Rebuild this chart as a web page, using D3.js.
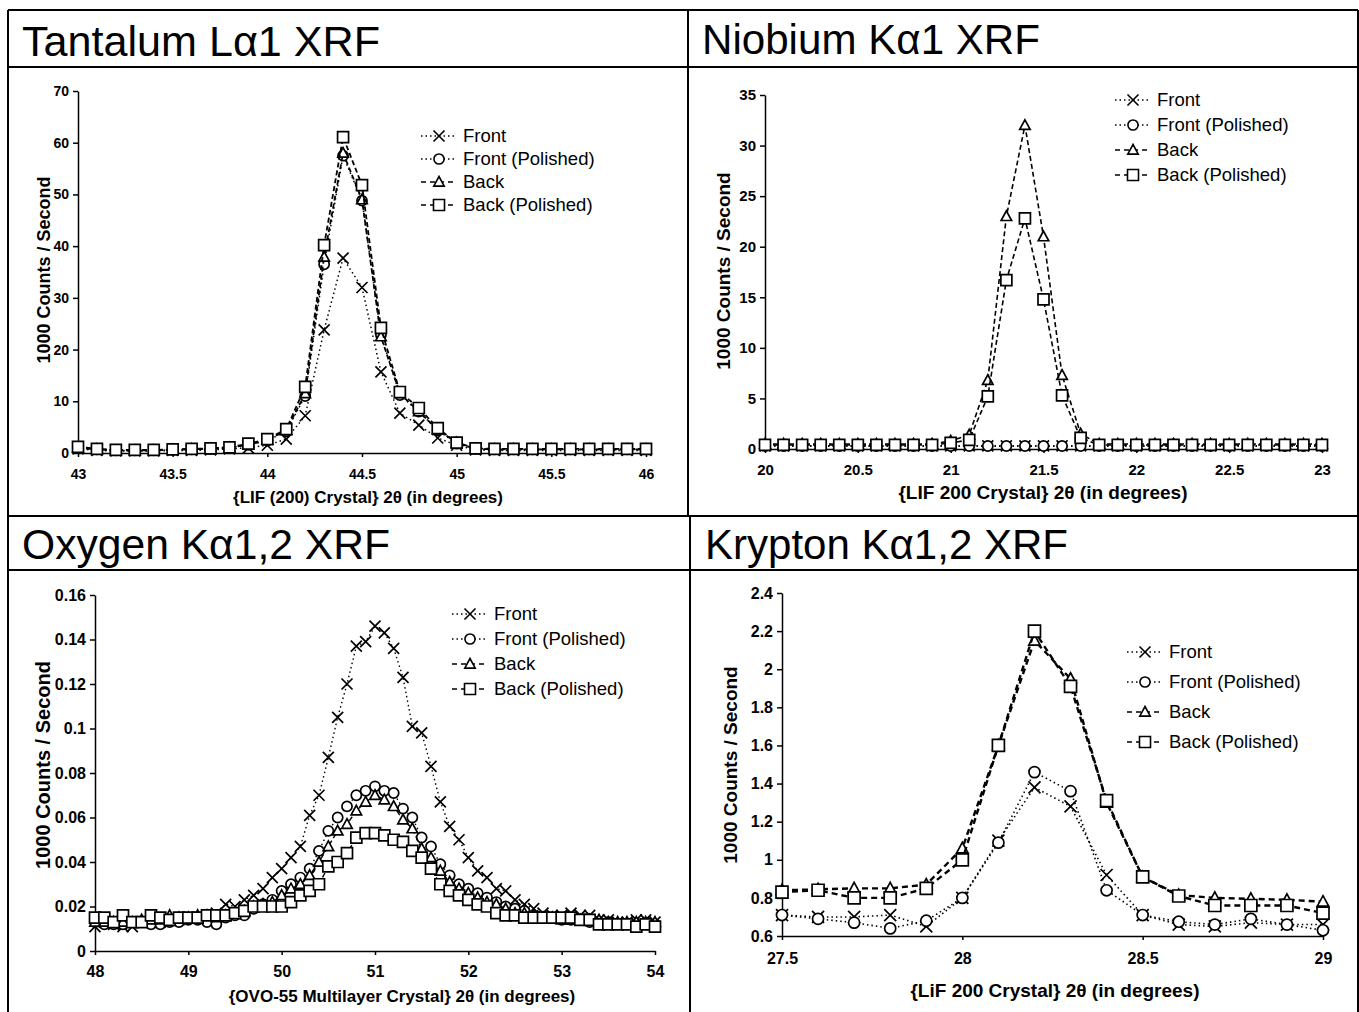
<!DOCTYPE html>
<html>
<head>
<meta charset="utf-8">
<script src="https://cdn.jsdelivr.net/npm/d3@7"></script>
<style>
body { margin: 0; background: #fff; }
svg text { font-family: "Liberation Sans", Arial, Helvetica, sans-serif; fill: #000; }
</style>
</head>
<body>
<svg id="chart" width="1359" height="1012"></svg>
<script>
// series shared by all four panels
const seriesNames = ["Front", "Front (Polished)", "Back", "Back (Polished)"];
const seriesShapes = ["cross", "circle", "triangle", "square"];

// Tantalum La1, LiF (200), 2theta 43.0 .. 46.0
const taAngles = [43.0, 43.1, 43.2, 43.3, 43.4, 43.5, 43.6, 43.7, 43.8, 43.9, 44.0, 44.1, 44.2, 44.3, 44.4, 44.5,
    44.6, 44.7, 44.8, 44.9, 45.0, 45.1, 45.2, 45.3, 45.4, 45.5, 45.6, 45.7, 45.8, 45.9, 46.0];
const taFront = [0.8, 0.5, 0.4, 0.4, 0.4, 0.5, 0.5, 0.6, 0.8, 1.0, 1.5, 2.7, 7.2, 23.8, 37.7, 32.0,
    15.7, 7.7, 5.4, 2.9, 1.5, 0.6, 0.5, 0.5, 0.5, 0.5, 0.5, 0.5, 0.5, 0.5, 0.5];
const taFrontPolished = [1.0, 0.7, 0.5, 0.5, 0.5, 0.6, 0.7, 0.8, 1.0, 1.6, 2.4, 4.2, 11.0, 36.5, 57.5, 48.8,
    22.8, 11.2, 8.0, 4.4, 1.8, 0.8, 0.7, 0.7, 0.7, 0.7, 0.7, 0.7, 0.7, 0.7, 0.7];
const taBack = [1.0, 0.7, 0.5, 0.5, 0.5, 0.6, 0.7, 0.8, 1.0, 1.6, 2.5, 4.4, 11.5, 37.9, 58.0, 49.0,
    22.5, 11.5, 8.0, 4.5, 2.0, 0.8, 0.7, 0.7, 0.7, 0.7, 0.7, 0.7, 0.7, 0.7, 0.7];
const taBackPolished = [1.2, 0.8, 0.6, 0.6, 0.6, 0.7, 0.8, 0.9, 1.1, 1.8, 2.7, 4.6, 12.8, 40.2, 61.1, 51.8,
    24.2, 11.8, 8.7, 4.8, 2.0, 0.9, 0.8, 0.8, 0.8, 0.8, 0.8, 0.8, 0.8, 0.8, 0.8];

// Niobium Ka1, LiF 200, 2theta 20.0 .. 23.0
const nbAngles = [20.0, 20.1, 20.2, 20.3, 20.4, 20.5, 20.6, 20.7, 20.8, 20.9, 21.0, 21.1, 21.2, 21.3, 21.4, 21.5,
    21.6, 21.7, 21.8, 21.9, 22.0, 22.1, 22.2, 22.3, 22.4, 22.5, 22.6, 22.7, 22.8, 22.9, 23.0];
const nbFront = [0.3, 0.3, 0.3, 0.3, 0.3, 0.3, 0.3, 0.3, 0.3, 0.3, 0.3, 0.3, 0.3, 0.3, 0.3, 0.3,
    0.3, 0.3, 0.3, 0.3, 0.3, 0.3, 0.3, 0.3, 0.3, 0.3, 0.3, 0.3, 0.3, 0.3, 0.3];
const nbFrontPolished = [0.3, 0.3, 0.3, 0.3, 0.3, 0.3, 0.3, 0.3, 0.3, 0.3, 0.3, 0.3, 0.3, 0.3, 0.3, 0.3,
    0.3, 0.3, 0.3, 0.3, 0.3, 0.3, 0.3, 0.3, 0.3, 0.3, 0.3, 0.3, 0.3, 0.3, 0.3];
const nbBack = [0.5, 0.5, 0.5, 0.5, 0.5, 0.5, 0.5, 0.5, 0.5, 0.5, 0.8, 1.4, 6.8, 23.0, 32.0, 21.0,
    7.3, 1.5, 0.5, 0.5, 0.5, 0.5, 0.5, 0.5, 0.5, 0.5, 0.5, 0.5, 0.5, 0.5, 0.5];
const nbBackPolished = [0.4, 0.4, 0.4, 0.4, 0.4, 0.4, 0.4, 0.4, 0.4, 0.4, 0.6, 0.9, 5.2, 16.7, 22.8, 14.8,
    5.3, 1.1, 0.4, 0.4, 0.4, 0.4, 0.4, 0.4, 0.4, 0.4, 0.4, 0.4, 0.4, 0.4, 0.4];

// Oxygen Ka1,2, OVO-55 multilayer, 2theta 48.0 .. 54.0
const oxAngles = [48.0, 48.1, 48.2, 48.3, 48.4, 48.5, 48.6, 48.7, 48.8, 48.9,
    49.0, 49.1, 49.2, 49.3, 49.4, 49.5, 49.6, 49.7, 49.8, 49.9,
    50.0, 50.1, 50.2, 50.3, 50.4, 50.5, 50.6, 50.7, 50.8, 50.9,
    51.0, 51.1, 51.2, 51.3, 51.4, 51.5, 51.6, 51.7, 51.8, 51.9,
    52.0, 52.1, 52.2, 52.3, 52.4, 52.5, 52.6, 52.7, 52.8, 52.9,
    53.0, 53.1, 53.2, 53.3, 53.4, 53.5, 53.6, 53.7, 53.8, 53.9, 54.0];
const oxFront = [0.011, 0.013, 0.012, 0.011, 0.011, 0.013, 0.014, 0.013, 0.014, 0.014,
    0.015, 0.015, 0.016, 0.017, 0.021, 0.020, 0.023, 0.025, 0.028, 0.033,
    0.037, 0.042, 0.047, 0.061, 0.070, 0.087, 0.105, 0.120, 0.137, 0.139,
    0.146, 0.143, 0.136, 0.123, 0.101, 0.098, 0.083, 0.067, 0.056, 0.050,
    0.042, 0.036, 0.033, 0.028, 0.027, 0.023, 0.021, 0.019, 0.017, 0.016,
    0.016, 0.017, 0.016, 0.016, 0.014, 0.014, 0.013, 0.013, 0.014, 0.014, 0.013];
const oxFrontPolished = [0.013, 0.012, 0.012, 0.012, 0.013, 0.013, 0.012, 0.012, 0.013, 0.013,
    0.014, 0.014, 0.013, 0.012, 0.015, 0.016, 0.016, 0.019, 0.021, 0.023,
    0.027, 0.030, 0.033, 0.037, 0.045, 0.054, 0.060, 0.065, 0.070, 0.072,
    0.074, 0.072, 0.071, 0.064, 0.060, 0.051, 0.047, 0.039, 0.034, 0.030,
    0.028, 0.026, 0.024, 0.022, 0.020, 0.019, 0.018, 0.016, 0.015, 0.015,
    0.014, 0.014, 0.014, 0.013, 0.013, 0.013, 0.012, 0.012, 0.012, 0.012, 0.012];
const oxBack = [0.013, 0.013, 0.013, 0.013, 0.013, 0.014, 0.014, 0.014, 0.016, 0.015,
    0.015, 0.016, 0.016, 0.015, 0.016, 0.017, 0.018, 0.020, 0.021, 0.022,
    0.025, 0.028, 0.030, 0.034, 0.040, 0.047, 0.054, 0.057, 0.063, 0.067,
    0.070, 0.068, 0.065, 0.059, 0.055, 0.046, 0.042, 0.036, 0.031, 0.028,
    0.026, 0.024, 0.022, 0.021, 0.019, 0.017, 0.017, 0.016, 0.015, 0.015,
    0.014, 0.014, 0.014, 0.014, 0.014, 0.013, 0.013, 0.013, 0.013, 0.013, 0.013];
const oxBackPolished = [0.015, 0.015, 0.013, 0.016, 0.013, 0.013, 0.016, 0.015, 0.014, 0.015,
    0.015, 0.015, 0.016, 0.016, 0.016, 0.017, 0.018, 0.020, 0.020, 0.020,
    0.020, 0.022, 0.025, 0.027, 0.030, 0.038, 0.040, 0.044, 0.051, 0.053,
    0.053, 0.052, 0.050, 0.049, 0.045, 0.042, 0.037, 0.030, 0.027, 0.025,
    0.023, 0.021, 0.020, 0.017, 0.016, 0.016, 0.015, 0.015, 0.015, 0.015,
    0.015, 0.015, 0.014, 0.014, 0.012, 0.012, 0.012, 0.012, 0.011, 0.012, 0.011];

// Krypton Ka1,2, LiF 200, 2theta 27.5 .. 29.0
const krAngles = [27.5, 27.6, 27.7, 27.8, 27.9, 28.0, 28.1, 28.2, 28.3, 28.4, 28.5, 28.6, 28.7, 28.8, 28.9, 29.0];
const krFront = [0.71, 0.70, 0.70, 0.71, 0.65, 0.80, 1.10, 1.38, 1.28, 0.92, 0.71, 0.66, 0.65, 0.67, 0.66, 0.66];
const krFrontPolished = [0.71, 0.69, 0.67, 0.64, 0.68, 0.80, 1.09, 1.46, 1.36, 0.84, 0.71, 0.675, 0.66, 0.69, 0.66, 0.63];
const krBack = [0.84, 0.845, 0.85, 0.85, 0.87, 1.06, 1.60, 2.15, 1.95, 1.30, 0.91, 0.815, 0.80, 0.795, 0.79, 0.78];
const krBackPolished = [0.83, 0.84, 0.80, 0.80, 0.85, 1.00, 1.60, 2.20, 1.91, 1.31, 0.91, 0.81, 0.76, 0.76, 0.76, 0.72];

// tick values
const taXTicks = [43, 43.5, 44, 44.5, 45, 45.5, 46];
const taYTicks = [0, 10, 20, 30, 40, 50, 60, 70];
const nbXTicks = [20, 20.5, 21, 21.5, 22, 22.5, 23];
const nbYTicks = [0, 5, 10, 15, 20, 25, 30, 35];
const oxXTicks = [48, 49, 50, 51, 52, 53, 54];
const oxYTicks = [0, 0.02, 0.04, 0.06, 0.08, 0.1, 0.12, 0.14, 0.16];
const krXTicks = [27.5, 28, 28.5, 29];
const krYTicks = [0.6, 0.8, 1, 1.2, 1.4, 1.6, 1.8, 2, 2.2, 2.4];

const svg = d3.select("#chart");

// frame of the figure
const frameLines = [
    [8, 10, 1358, 10], [8, 10, 8, 1012], [1358, 10, 1358, 1012],
    [8, 67, 1358, 67], [8, 516, 1358, 516], [8, 570, 1358, 570],
    [688, 10, 688, 516], [690, 516, 690, 1012]
];
svg.append("g")
    .selectAll("line")
    .data(frameLines)
    .join("line")
    .attr("x1", d => d[0]).attr("y1", d => d[1])
    .attr("x2", d => d[2]).attr("y2", d => d[3])
    .attr("stroke", "#000")
    .attr("stroke-width", 2);

function markerPath(shape, size) {
    const h = size / 2;
    if (shape === "cross") return `M${-h},${-h}L${h},${h}M${-h},${h}L${h},${-h}`;
    if (shape === "circle") return d3.symbol(d3.symbolCircle, Math.PI * h * h * 0.85)();
    if (shape === "triangle") return `M0,${-h}L${h * 0.95},${h * 0.75}L${-h * 0.95},${h * 0.75}Z`;
    return `M${-h},${-h}H${h}V${h}H${-h}Z`;
}

const fmt = d => String(+d.toFixed(3));

function drawPanel(p) {
    const x = d3.scaleLinear().domain(p.xDomain).range(p.xRange);
    const y = d3.scaleLinear().domain(p.yDomain).range(p.yRange);
    const g = svg.append("g");

    // title
    g.append("text")
        .attr("x", p.titleX)
        .attr("y", p.titleY)
        .attr("font-size", 43)
        .attr("textLength", p.titleWidth)
        .attr("lengthAdjust", "spacingAndGlyphs")
        .text(p.title);

    // axes
    const yAxis = g.append("g")
        .attr("transform", `translate(${p.xRange[0]},0)`)
        .call(d3.axisLeft(y).tickValues(p.yTicks).tickSize(5).tickSizeOuter(0).tickPadding(4).tickFormat(fmt));
    const xAxis = g.append("g")
        .attr("transform", `translate(0,${p.yRange[0]})`)
        .call(d3.axisBottom(x).tickValues(p.xTicks).tickSize(4).tickSizeOuter(0).tickPadding(p.xPad).tickFormat(fmt));
    [yAxis, xAxis].forEach(a => {
        a.attr("font-family", null).attr("font-size", p.tickFont).attr("font-weight", "bold");
        a.selectAll("path, line").attr("stroke", "#000").attr("stroke-width", 1.5);
    });

    // axis titles
    g.append("text")
        .attr("transform", `translate(${p.yLabelX},${p.yLabelY}) rotate(-90)`)
        .attr("text-anchor", "middle")
        .attr("font-size", p.yLabelFont)
        .attr("font-weight", "bold")
        .text("1000 Counts / Second");
    g.append("text")
        .attr("x", p.xLabelX)
        .attr("y", p.xLabelY)
        .attr("text-anchor", "middle")
        .attr("font-size", p.xLabelFont)
        .attr("font-weight", "bold")
        .text(p.xLabel);

    // series
    const line = d3.line().x(d => x(d[0])).y(d => y(d[1]));
    p.series.forEach((values, i) => {
        const pts = p.angles.map((a, k) => [a, values[k]]);
        g.append("path")
            .datum(pts)
            .attr("d", line)
            .attr("fill", "none")
            .attr("stroke", "#000")
            .attr("stroke-width", p.lineWidths[i])
            .attr("stroke-dasharray", p.dashes[i]);
        g.append("g")
            .selectAll("path")
            .data(pts)
            .join("path")
            .attr("transform", d => `translate(${x(d[0])},${y(d[1])})`)
            .attr("d", markerPath(seriesShapes[i], p.markerSize))
            .attr("fill", seriesShapes[i] === "cross" ? "none" : "#fff")
            .attr("stroke", "#000")
            .attr("stroke-width", 1.7);
    });

    // legend
    const leg = g.append("g");
    seriesNames.forEach((name, i) => {
        const ly = p.legendY + i * p.legendStep;
        leg.append("line")
            .attr("x1", p.legendX).attr("x2", p.legendX + 36)
            .attr("y1", ly).attr("y2", ly)
            .attr("stroke", "#000")
            .attr("stroke-width", 1.6)
            .attr("stroke-dasharray", i < 2 ? "1.5,3" : "5,4");
        leg.append("path")
            .attr("transform", `translate(${p.legendX + 18},${ly})`)
            .attr("d", markerPath(seriesShapes[i], 11))
            .attr("fill", seriesShapes[i] === "cross" ? "none" : "#fff")
            .attr("stroke", "#000")
            .attr("stroke-width", 1.6);
        leg.append("text")
            .attr("x", p.legendX + 42)
            .attr("y", ly + 6)
            .attr("font-size", 18.5)
            .text(name);
    });
}

const panels = [
    {
        title: "Tantalum L\u03b11 XRF", titleX: 22, titleY: 56, titleWidth: 358,
        xDomain: [43, 46], xRange: [78, 646], yDomain: [0, 70], yRange: [453, 91],
        xTicks: taXTicks, yTicks: taYTicks, xPad: 12, tickFont: 14,
        yLabelX: 50, yLabelY: 270, yLabelFont: 18,
        xLabelX: 368, xLabelY: 503, xLabelFont: 17,
        xLabel: "{LIF (200) Crystal} 2\u03b8 (in degrees)",
        angles: taAngles, series: [taFront, taFrontPolished, taBack, taBackPolished],
        dashes: ["1.5,3", "1.5,3", "5,3", "5,3"], lineWidths: [1.5, 1.5, 1.8, 1.8],
        markerSize: 11, legendX: 421, legendY: 136, legendStep: 23
    },
    {
        title: "Niobium K\u03b11 XRF", titleX: 702, titleY: 54, titleWidth: 338,
        xDomain: [20, 23], xRange: [765, 1322], yDomain: [0, 35], yRange: [449, 95],
        xTicks: nbXTicks, yTicks: nbYTicks, xPad: 11, tickFont: 15,
        yLabelX: 730, yLabelY: 271, yLabelFont: 19,
        xLabelX: 1043, xLabelY: 499, xLabelFont: 19,
        xLabel: "{LIF 200 Crystal} 2\u03b8 (in degrees)",
        angles: nbAngles, series: [nbFront, nbFrontPolished, nbBack, nbBackPolished],
        dashes: ["1.5,3", "1.5,3", "5,3", "5,3"], lineWidths: [1.5, 1.5, 1.6, 1.6],
        markerSize: 11, legendX: 1115, legendY: 100, legendStep: 25
    },
    {
        title: "Oxygen K\u03b11,2 XRF", titleX: 22, titleY: 559, titleWidth: 368,
        xDomain: [48, 54], xRange: [95, 655], yDomain: [0, 0.16], yRange: [951, 595],
        xTicks: oxXTicks, yTicks: oxYTicks, xPad: 11, tickFont: 16,
        yLabelX: 50, yLabelY: 765, yLabelFont: 20,
        xLabelX: 402, xLabelY: 1002, xLabelFont: 17,
        xLabel: "{OVO-55 Multilayer Crystal} 2\u03b8 (in degrees)",
        angles: oxAngles, series: [oxFront, oxFrontPolished, oxBack, oxBackPolished],
        dashes: ["1.5,3", "1.5,3", "5,3", "5,3"], lineWidths: [1.4, 1.4, 1.4, 1.4],
        markerSize: 11, legendX: 452, legendY: 614, legendStep: 25
    },
    {
        title: "Krypton K\u03b11,2 XRF", titleX: 705, titleY: 559, titleWidth: 363,
        xDomain: [27.5, 29], xRange: [782, 1323], yDomain: [0.6, 2.4], yRange: [936, 593],
        xTicks: krXTicks, yTicks: krYTicks, xPad: 13, tickFont: 16,
        yLabelX: 737, yLabelY: 765, yLabelFont: 19,
        xLabelX: 1055, xLabelY: 997, xLabelFont: 19,
        xLabel: "{LiF 200 Crystal} 2\u03b8 (in degrees)",
        angles: krAngles, series: [krFront, krFrontPolished, krBack, krBackPolished],
        dashes: ["1.5,3", "1.5,3", "6,4", "6,4"], lineWidths: [1.6, 1.6, 2.4, 2.4],
        markerSize: 12, legendX: 1127, legendY: 652, legendStep: 30
    }
];

panels.forEach(drawPanel);
</script>
</body>
</html>
